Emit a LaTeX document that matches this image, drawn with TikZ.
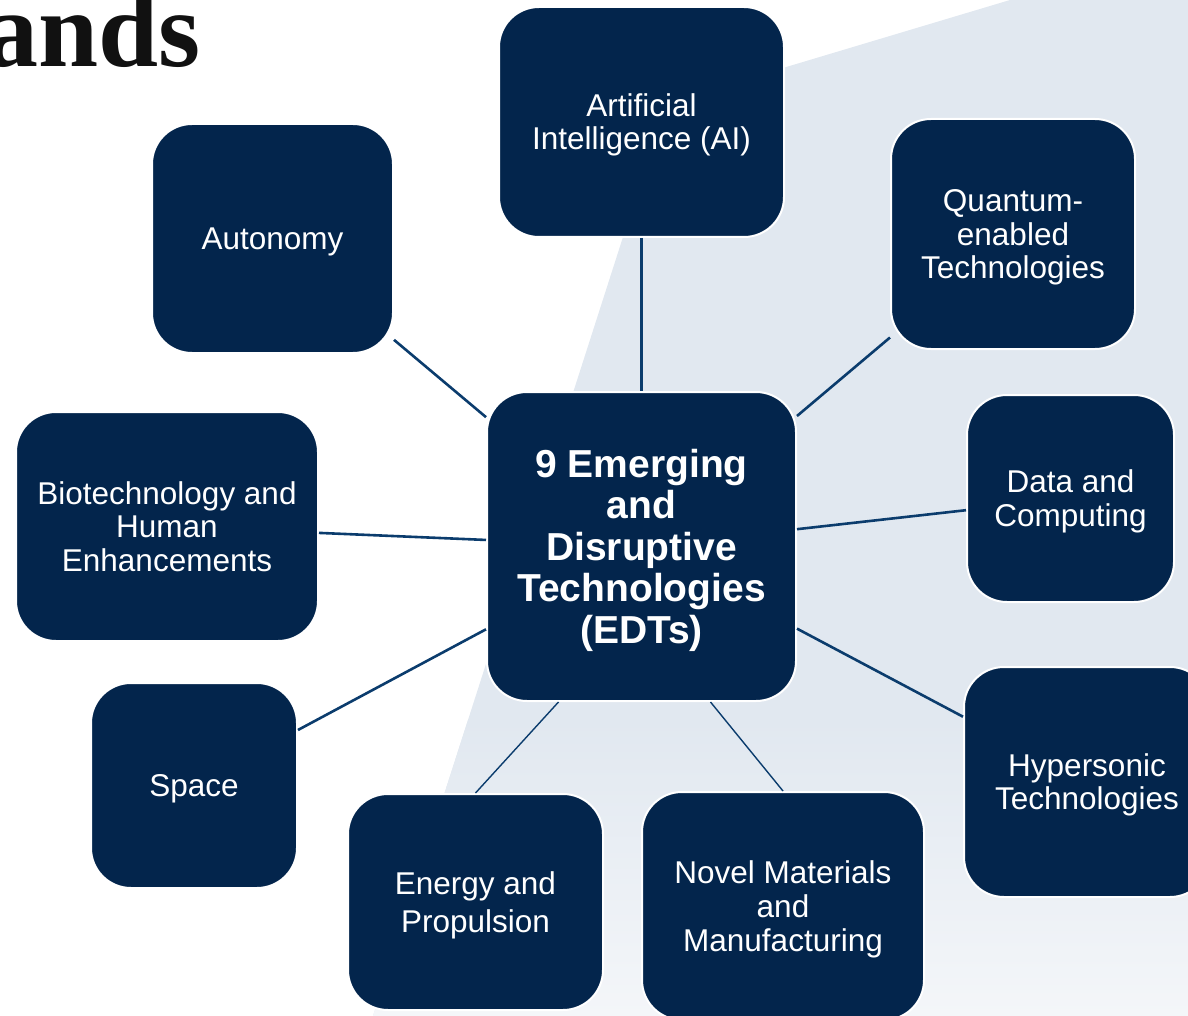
\documentclass[tikz,border=0pt]{standalone}
\usepackage{fontspec}
\setmainfont{Liberation Sans}
\newfontfamily\titlefont{Liberation Serif}
\usetikzlibrary{calc}
\definecolor{boxfill}{HTML}{03254C}
\definecolor{linkcol}{HTML}{0B3C6D}
\definecolor{bgA}{HTML}{E1E8F0}
\definecolor{bgB}{HTML}{F4F6F9}
\definecolor{titlecol}{HTML}{111111}
\newcommand\boxline[1]{\smash{#1}\rule[-0.08em]{0pt}{0.86em}}
\begin{document}
\begin{tikzpicture}[x=1pt,y=-1pt,
  techbox/.style={draw=white, line width=2pt, fill=boxfill, rounded corners=40pt,
    text=white, align=center, inner sep=0pt,
    font=\fontsize{31.5}{33.5}\selectfont},
  hubbox/.style={techbox, font=\bfseries\fontsize{39}{41.5}\selectfont},
  link/.style={draw=linkcol, line width=2.6pt},
  thinlink/.style={draw=linkcol, line width=1.4pt}]
\useasboundingbox (0,0) rectangle (1188,1016);
\clip (0,0) rectangle (1188,1016);
% background panel
\fill[bgA] (1010,0) -- (1188,0) -- (1188,1016) -- (373,1016) -- (666,103) -- cycle;
\begin{scope}
  \clip (1010,0) -- (1188,0) -- (1188,1016) -- (373,1016) -- (666,103) -- cycle;
  \shade[top color=bgA, bottom color=bgB] (0,720) rectangle (1188,1016);
\end{scope}
% title fragment
\node[anchor=base east, inner sep=0pt, text=titlecol,
  font=\titlefont\bfseries\fontsize{108}{108}\selectfont] (title) at (201,67) {ands};
% boxes
\node[hubbox, minimum width=309pt, minimum height=309pt] (edt) at (641.5,546.5)
  {\boxline{9 Emerging}\\\boxline{and}\\\boxline{Disruptive}\\\boxline{Technologies}\\\boxline{(EDTs)}};
\node[techbox, minimum width=285pt, minimum height=230pt] (ai) at (641.5,122)
  {\boxline{Artificial}\\\boxline{Intelligence (AI)}};
\node[techbox, minimum width=241pt, minimum height=229pt] (auto) at (272.5,238.5)
  {\boxline{Autonomy}};
\node[techbox, minimum width=244pt, minimum height=230pt] (quant) at (1013,234)
  {\boxline{Quantum-}\\\boxline{enabled}\\\boxline{Technologies}};
\node[techbox, minimum width=302pt, minimum height=229pt] (bio) at (167,526.5)
  {\boxline{Biotechnology and}\\\boxline{Human}\\\boxline{Enhancements}};
\node[techbox, minimum width=207pt, minimum height=207pt] (data) at (1070.5,498.5)
  {\boxline{Data and}\\\boxline{Computing}};
\node[techbox, minimum width=206pt, minimum height=205pt] (space) at (194,785.5)
  {\boxline{Space}};
\node[techbox, minimum width=255pt, minimum height=216pt,
  font=\fontsize{31.5}{38}\selectfont] (energy) at (475.5,902)
  {\boxline{Energy and}\\\boxline{Propulsion}};
\node[techbox, minimum width=282pt, minimum height=228pt,
  font=\fontsize{31.5}{34}\selectfont] (novel) at (783,906)
  {\boxline{Novel Materials}\\\boxline{and}\\\boxline{Manufacturing}};
\node[techbox, minimum width=246pt, minimum height=230pt] (hyper) at (1087,782)
  {\boxline{Hypersonic}\\\boxline{Technologies}};
% connectors
\draw[link] (ai) -- (edt);
\draw[link] (auto) -- (edt);
\draw[link] (quant) -- (edt);
\draw[link] (bio) -- (edt);
\draw[link] (data) -- (edt);
\draw[link] (space) -- (edt);
\draw[link] (hyper) -- (edt);
\draw[thinlink] (energy.north) -- ($(edt.south)+(-83,0)$);
\draw[thinlink] (novel.north) -- ($(edt.south)+(69,0)$);
\end{tikzpicture}
\end{document}
